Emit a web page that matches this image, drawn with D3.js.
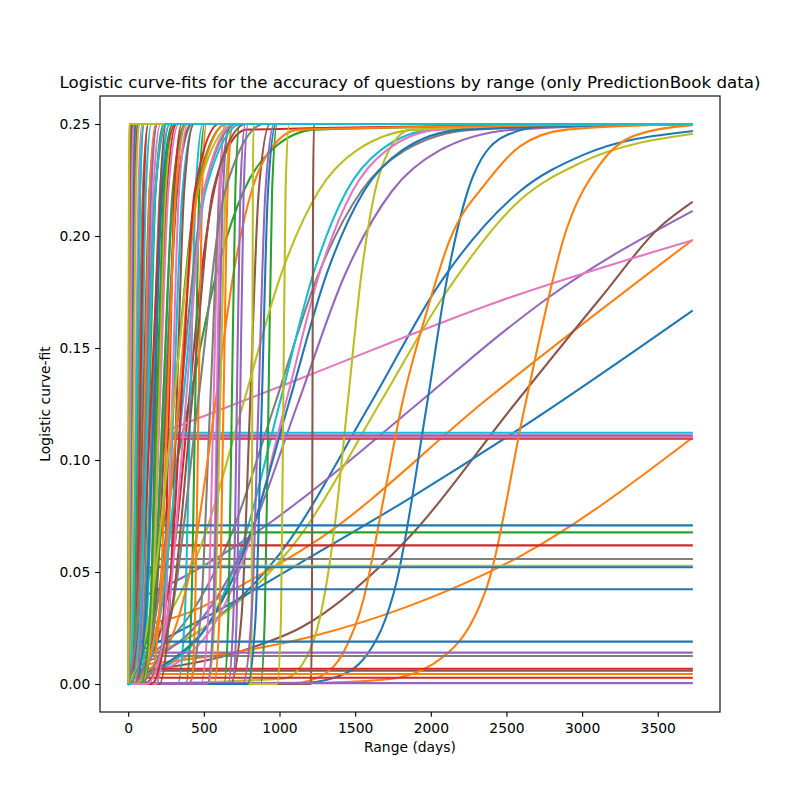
<!DOCTYPE html>
<html>
<head>
<meta charset="utf-8">
<script src="https://cdn.jsdelivr.net/npm/d3@7"></script>
<style>
  body { margin: 0; background: #fff; }
  svg text { font-family: "DejaVu Sans", sans-serif; fill: #000; }
</style>
</head>
<body>
<svg id="chart" width="800" height="800"></svg>
<script>
let title_text = 'Logistic curve-fits for the accuracy of questions by range (only PredictionBook data)';
let x_label = 'Range (days)';
let y_label = 'Logistic curve-fit';
let x_ticks = [0, 500, 1000, 1500, 2000, 2500, 3000, 3500];
let y_ticks = [0, 0.05, 0.10, 0.15, 0.20, 0.25];
let last_day = 3725;
let fit_floor = 0;
let fit_ceiling = 0.25;

// every fit carries its run = the order it was plotted in (colour comes from run % 10)
// flat fits: [run, first day, level]
let flat_fits = [
  [40, 198, 0.0708], [50, 46, 0.0521], [60, 198, 0.0423], [70, 33, 0.0189],
  [51, 33, 0.0045], [12, 198, 0.0677],
  [13, 231, 0.1095], [23, 198, 0.0619], [33, 33, 0.0068], [43, 33, 0.0028],
  [24, 231, 0.1110], [34, 33, 0.0140], [44, 33, 0.0004],
  [15, 33, 0.0059], [16, 231, 0.1102], [17, 198, 0.0558], [27, 33, 0.0125],
  [38, 198, 0.0528], [19, 231, 0.1122]
];

// steep fits: [run, days where the fit passes each of step_levels]
let step_levels = [0, 0.03, 0.125, 0.22, 0.25];
let step_fits = [
  [80, 789, 842, 883, 924, 977], [90, 0, 9, 20, 31, 45], [100, 45, 115, 170, 225, 295],
  [61, 413, 442, 465, 488, 517], [71, 567, 603, 630, 657, 693], [81, 37, 78, 110, 142, 183],
  [91, 135, 205, 260, 315, 385], [101, 40, 200, 330, 460, 650],
  [22, 875, 903, 927, 951, 985], [32, 380, 416, 443, 470, 506], [42, 633, 662, 685, 708, 737],
  [52, 18, 42, 60, 78, 102], [62, 46, 99, 140, 181, 234], [72, 84, 166, 230, 294, 376],
  [82, 0, 150, 300, 450, 650], [92, 0, 3, 10, 17, 27], [102, 85, 144, 190, 236, 295],
  [53, 28, 57, 80, 103, 132], [63, 90, 155, 205, 255, 320], [73, 186, 234, 270, 306, 354],
  [83, 0, 1, 6, 11, 16], [93, 0, 77, 150, 223, 317], [103, 150, 260, 350, 440, 600],
  [54, 660, 695, 718, 741, 775], [64, 688, 717, 740, 763, 792], [74, 756, 815, 861, 907, 966],
  [84, 522, 563, 595, 627, 668], [94, 0, 1, 4, 7, 12], [104, 47, 88, 120, 152, 193],
  [25, 674, 749, 806, 863, 938], [35, 1208, 1214, 1218, 1222, 1228], [45, 0, 16, 30, 44, 61],
  [55, 6, 59, 100, 141, 194], [65, 107, 148, 180, 212, 253], [75, 83, 177, 250, 323, 417],
  [85, 205, 270, 320, 370, 435], [95, 0, 3, 8, 13, 21], [105, 100, 280, 420, 560, 780],
  [36, 480, 528, 564, 600, 648], [46, 534, 563, 586, 609, 638], [56, 8, 32, 50, 68, 92],
  [66, 46, 94, 130, 166, 214], [76, 85, 155, 210, 265, 335], [86, 185, 244, 290, 336, 395],
  [96, 0, 6, 15, 24, 36], [106, 120, 260, 380, 500, 700],
  [37, 396, 478, 542, 606, 688], [47, 7, 43, 70, 97, 133], [57, 45, 110, 160, 210, 275],
  [67, 52, 158, 240, 322, 428], [77, 20, 180, 340, 500, 720], [87, 0, 7, 20, 33, 49],
  [97, 60, 280, 460, 640, 900], [107, 0, 61, 120, 179, 256],
  [48, 985, 1010, 1025, 1040, 1065], [58, 812, 816, 820, 824, 828], [68, 524, 572, 608, 644, 692],
  [78, 0, 19, 35, 51, 73], [88, 95, 154, 200, 246, 305], [98, 0, 140, 300, 460, 700],
  [108, 0, 1, 3, 5, 8],
  [29, 326, 374, 410, 446, 494], [39, 0, 14, 25, 36, 50], [49, 27, 63, 90, 117, 153],
  [59, 65, 124, 170, 216, 275], [69, 73, 162, 230, 298, 387], [79, 164, 241, 300, 359, 436],
  [89, 40, 210, 360, 510, 750], [99, 3, 32, 55, 78, 107], [109, 15, 80, 130, 180, 245]
];

// slower fits read point by point: [run, [[day, value], ...]]
let curve_fits = [
  [0, [[0, 0.010], [500, 0.025], [1000, 0.058], [1600, 0.125], [2061, 0.179], [2589, 0.220], [3000, 0.236], [3725, 0.2468]]],
  [10, [[0, 0.012], [600, 0.033], [1136, 0.054], [1863, 0.083], [2589, 0.114], [3725, 0.1665]]],
  [20, [[0, 0], [1136, 0.0004], [1356, 0.0027], [1577, 0.013], [1775, 0.046], [1975, 0.125], [2105, 0.18], [2281, 0.227], [2500, 0.245], [2800, 0.2495], [3725, 0.25]]],
  [30, [[0, 0.0035], [310, 0.0118], [560, 0.0298], [810, 0.0672], [1060, 0.125], [1310, 0.1828], [1560, 0.2202], [1810, 0.2382], [2210, 0.2475], [3725, 0.25]]],
  [1, [[0, 0.025], [475, 0.034], [694, 0.042], [1268, 0.065], [2369, 0.127], [3725, 0.198]]],
  [11, [[0, 0.008], [600, 0.013], [1200, 0.021], [1863, 0.035], [2589, 0.057], [3725, 0.1097]]],
  [21, [[0, 0], [1136, 0.0004], [1700, 0.002], [2017, 0.009], [2369, 0.043], [2625, 0.125], [2897, 0.203], [3118, 0.232], [3336, 0.2445], [3725, 0.2495]]],
  [31, [[0, 0], [1100, 0.0005], [1268, 0.0033], [1422, 0.014], [1554, 0.0375], [1686, 0.082], [1810, 0.125], [1972, 0.166], [2127, 0.1985], [2369, 0.224], [2589, 0.240], [2897, 0.2475], [3725, 0.25]]],
  [41, [[0, 0.002], [215, 0.0118], [334, 0.0298], [455, 0.0672], [575, 0.125], [695, 0.1828], [816, 0.2202], [936, 0.2382], [1129, 0.2475], [3725, 0.25]]],
  [2, [[0, 0.025], [36, 0.0298], [218, 0.0672], [400, 0.125], [582, 0.1828], [764, 0.2202], [945, 0.2382], [1236, 0.2475], [3725, 0.25]]],
  [3, [[0, 0.002], [150, 0.0118], [233, 0.0298], [317, 0.0672], [400, 0.125], [483, 0.1828], [567, 0.2202], [650, 0.2382], [783, 0.2475], [3725, 0.25]]],
  [4, [[0, 0.036], [400, 0.049], [958, 0.073], [1136, 0.082], [1929, 0.126], [2457, 0.156], [2787, 0.173], [3725, 0.211]]],
  [14, [[0, 0.0067], [182, 0.0118], [495, 0.0298], [808, 0.0672], [1120, 0.125], [1433, 0.1828], [1745, 0.2202], [2058, 0.2382], [2558, 0.2475], [3725, 0.25]]],
  [5, [[0, 0.005], [806, 0.016], [1136, 0.025], [1863, 0.066], [2543, 0.124], [3118, 0.172], [3514, 0.204], [3725, 0.215]]],
  [6, [[250, 0.113], [1136, 0.1363], [2457, 0.171], [3725, 0.198]]],
  [26, [[0, 0.0023], [373, 0.0118], [596, 0.0298], [818, 0.0672], [1040, 0.125], [1262, 0.1828], [1484, 0.2202], [1707, 0.2382], [2062, 0.2475], [3725, 0.25]]],
  [7, [[0, 0.008], [112, 0.0118], [398, 0.0298], [684, 0.0672], [970, 0.125], [1256, 0.1828], [1542, 0.2202], [1828, 0.2382], [2286, 0.2475], [3725, 0.25]]],
  [8, [[0, 0.010], [500, 0.025], [1136, 0.066], [1660, 0.125], [2083, 0.173], [2589, 0.216], [3000, 0.233], [3725, 0.2455]]],
  [18, [[0, 0], [1032, 0.0025], [1177, 0.0118], [1268, 0.0298], [1359, 0.0672], [1450, 0.125], [1541, 0.1828], [1632, 0.2202], [1723, 0.2382], [1868, 0.2475], [3725, 0.25]]],
  [28, [[0, 0.0114], [260, 0.0298], [510, 0.0672], [760, 0.125], [1010, 0.1828], [1260, 0.2202], [1510, 0.2382], [1910, 0.2475], [3725, 0.25]]],
  [9, [[0, 0.0027], [333, 0.0118], [556, 0.0298], [778, 0.0672], [1000, 0.125], [1222, 0.1828], [1444, 0.2202], [1667, 0.2382], [2022, 0.2475], [3725, 0.25]]]
];

let svg = d3.select('#chart');
let left = 100, right = 720, top_edge = 96, bottom = 712;
let pt = 100 / 72; // matplotlib points to pixels at 100 dpi

let x_pad = 0.05 * last_day;
let y_pad = 0.05 * (fit_ceiling - fit_floor);
let x = d3.scaleLinear().domain([-x_pad, last_day + x_pad]).range([left, right]);
let y = d3.scaleLinear().domain([fit_floor - y_pad, fit_ceiling + y_pad]).range([bottom, top_edge]);
let color = d3.scaleOrdinal().domain(d3.range(10)).range(d3.schemeCategory10);

// gather all fits as point lists, in plotting order
let all_fits = [];
flat_fits.forEach(d => {
  all_fits.push({run: d[0], pts: [[d[1], d[2]], [last_day, d[2]]]});
});
step_fits.forEach(d => {
  let days = d.slice(1);
  let pts = days[0] > 0 ? [[0, step_levels[0]]] : [];
  days.forEach((day, i) => pts.push([day, step_levels[i]]));
  pts.push([last_day, step_levels[step_levels.length - 1]]);
  all_fits.push({run: d[0], pts: pts});
});
curve_fits.forEach(d => {
  all_fits.push({run: d[0], pts: d[1]});
});
all_fits.sort((a, b) => a.run - b.run);

svg.append('defs').append('clipPath').attr('id', 'plot_clip')
  .append('rect').attr('x', left).attr('y', top_edge)
  .attr('width', right - left).attr('height', bottom - top_edge);

let line = d3.line()
  .x(d => x(d[0]))
  .y(d => y(d[1]))
  .curve(d3.curveMonotoneX);

svg.append('g').attr('clip-path', 'url(#plot_clip)')
  .selectAll('.fit').data(all_fits).enter().append('path').attr('class', 'fit')
  .attr('d', d => line(d.pts))
  .attr('fill', 'none')
  .attr('stroke', d => color(d.run % 10))
  .attr('stroke-width', 1.5 * pt)
  .attr('stroke-linejoin', 'round')
  .attr('stroke-linecap', 'square');

//----------------------------------------------------------------------------
// axes
let tick_len = 3.5 * pt;
let x_axis = d3.axisBottom(x).tickValues(x_ticks).tickFormat(d3.format('d'))
  .tickSizeInner(tick_len).tickSizeOuter(0).tickPadding(6);
let y_axis = d3.axisLeft(y).tickValues(y_ticks).tickFormat(d3.format('.2f'))
  .tickSizeInner(tick_len).tickSizeOuter(0).tickPadding(3.5 * pt);

let gx = svg.append('g').attr('transform', 'translate(0,' + bottom + ')').call(x_axis);
let gy = svg.append('g').attr('transform', 'translate(' + left + ',0)').call(y_axis);
[gx, gy].forEach(g => {
  g.select('.domain').remove();
  g.selectAll('line').attr('stroke', '#000').attr('stroke-width', 0.8 * pt);
  g.selectAll('text').attr('font-size', 10 * pt).attr('font-family', 'DejaVu Sans').attr('fill', '#000');
});

svg.append('rect')
  .attr('x', left).attr('y', top_edge)
  .attr('width', right - left).attr('height', bottom - top_edge)
  .attr('fill', 'none').attr('stroke', '#000').attr('stroke-width', 0.8 * pt);

svg.append('text')
  .attr('x', (left + right) / 2).attr('y', 88)
  .attr('text-anchor', 'middle').attr('font-size', 12 * pt)
  .text(title_text);

svg.append('text')
  .attr('x', (left + right) / 2).attr('y', 752)
  .attr('text-anchor', 'middle').attr('font-size', 10 * pt)
  .text(x_label);

svg.append('text')
  .attr('transform', 'translate(50,' + ((top_edge + bottom) / 2) + ') rotate(-90)')
  .attr('text-anchor', 'middle').attr('font-size', 10 * pt)
  .text(y_label);
</script>
</body>
</html>
